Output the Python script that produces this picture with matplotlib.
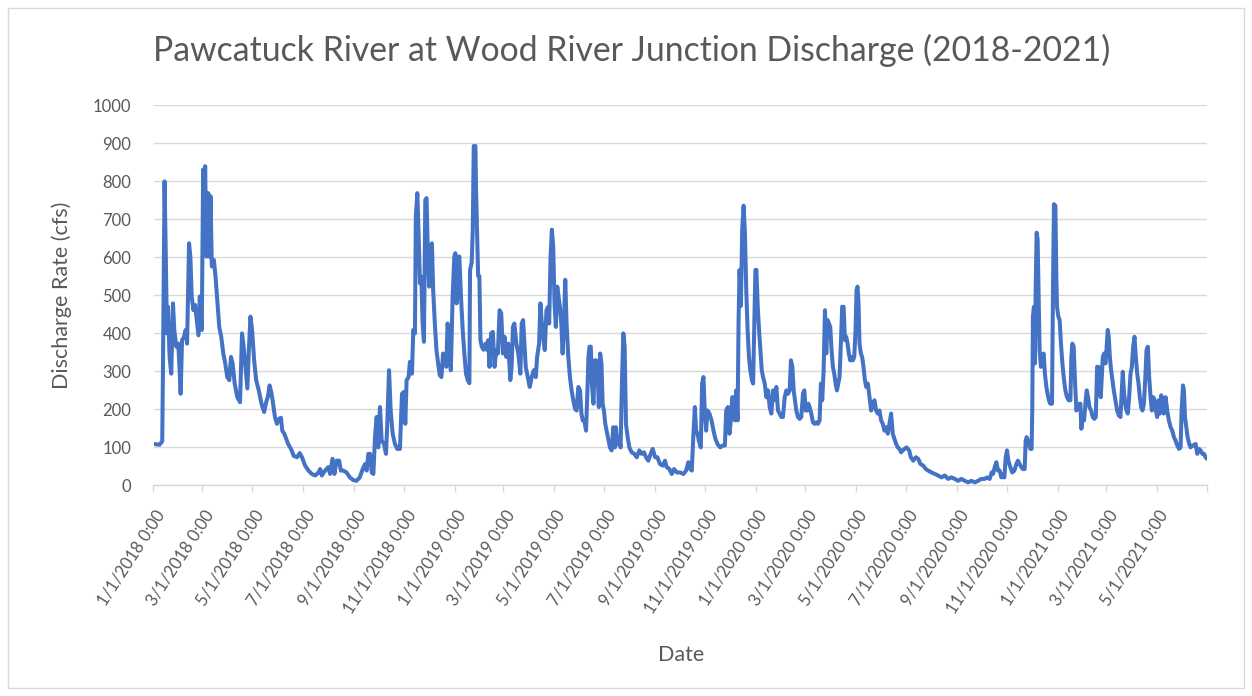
import datetime as dt

import matplotlib
matplotlib.use("Agg")
import matplotlib.dates as mdates
import matplotlib.pyplot as plt
import matplotlib.transforms as mtransforms
import numpy as np
from matplotlib.patches import Rectangle

# Discharge (cfs) by calendar year: day offset from Jan 1 of that year, and flow
day_2018 = [0, 7.3, 10.6, 11.4, 13.4, 14.6, 16.3, 17.5, 19.5, 21.5, 23.6, 25.2, 27.6, 30, 31.7,
            32.9, 34.6, 37, 39, 40.7, 43.1, 44.7, 46.3, 48.4, 50.4, 52.4, 54.5, 56.1, 58.5, 60.2,
            61.4, 62.6, 64.2, 66.3, 67.5, 69.1, 70.7, 73.2, 75.2, 77.6, 79.7, 82.1, 84.6, 87, 89.4,
            91.9, 93.9, 95.9, 98.4, 101.6, 104.9, 107.3, 109.3, 111.8, 113.8, 115.4, 117.5, 119.5,
            122, 124.4, 127.6, 130.9, 134.1, 136.6, 138.6, 140.7, 142.7, 144.7, 147.2, 149.6, 152,
            154.5, 156.1, 158.5, 161, 163.4, 166.7, 169.9, 174, 177.2, 180, 183.8, 187.9, 191.9,
            196, 200, 202, 204, 208, 212, 214, 217, 219.3, 222, 225, 227, 230, 234, 238, 242, 246,
            250, 253.6, 256.4, 258.4, 260.4, 262.5, 264.5, 266.5, 268.5, 270.5, 272.5, 274.5,
            276.6, 279.4, 281.8, 283.4, 285.5, 287.5, 289.9, 292.7, 295.5, 298.7, 301.2, 303.6,
            305.2, 306.8, 309.2, 310.8, 313.3, 314.9, 316.9, 318, 319.8, 321.3, 323, 324.6, 326.2,
            327.8, 329.5, 331, 332.6, 334.2, 335.8, 337.5, 339, 341, 343, 345, 347, 349, 351, 353,
            355, 356.4, 358.4, 360.4, 362.6, 364.6]
cfs_2018 = [108, 106, 115, 289, 799, 645, 399, 469, 337, 293, 478, 408, 364, 372, 302,
            240, 381, 390, 408, 372, 636, 601, 496, 460, 474, 434, 394, 496, 408, 830,
            663, 839, 601, 768, 601, 760, 575, 592, 548, 478, 416, 390, 346, 320, 284,
            276, 337, 320, 267, 231, 218, 399, 364, 302, 254, 346, 443, 408,
            328, 276, 249, 214, 192, 218, 232, 262, 245, 218, 179, 161, 174,
            177, 143, 135, 121, 107, 95, 77, 73, 84, 73, 51, 38, 29,
            25, 33, 42, 25, 38, 47, 29, 69, 29, 64, 64, 38, 38, 33, 20, 13, 11,
            20, 42, 55, 38, 82, 82, 33, 29, 126, 179, 99, 205,
            117, 108, 82, 161, 302, 196, 135, 108, 95, 95, 240, 245,
            161, 276, 284, 324, 293, 408, 399, 707, 768, 663, 531, 548, 425,
            377, 751, 755, 601, 522, 628, 636, 513, 425, 355, 320, 289, 284, 346, 337,
            311, 425, 399, 302, 496, 601]

day_2019 = [0.8, 2.4, 3.7, 5.7, 7.7, 9.8, 11.8, 13.8, 15.9, 17.9, 18.7, 20.7, 22, 23.2, 25.2, 26,
            27.2, 28.5, 30, 31.3, 32.9, 35, 37.4, 39, 40.7, 42.3, 44.3, 46.3, 48.4, 50.4, 52.4,
            54.5, 56.5, 58.5, 60.6, 62.6, 65, 67.5, 69.1, 70.7, 72.4, 74.8, 77.2, 79.7, 81.3, 83,
            84.6, 86.2, 88.6, 91, 93.5, 95.9, 98.4, 100, 102.4, 104, 105.7, 107.3, 109.3, 111.3,
            113.4, 114.6, 116.3, 117.9, 119.5, 121.1, 122.7, 124.4, 126, 127.6, 129.3, 130.9,
            132.5, 134.1, 135.7, 137.8, 139.8, 141.8, 143.9, 145.9, 147.9, 150, 152, 153.7, 155.3,
            157.3, 159.3, 161, 162.2, 163.5, 165.1, 166.3, 168.3, 170, 171.6, 173.2, 174.8, 176.4,
            178, 179.4, 181, 182.6, 184.2, 186.3, 188.3, 190.3, 192.3, 194.4, 195.6, 197.2, 199.2,
            201.2, 202.9, 204.5, 206.1, 207.7, 209.7, 211.8, 214.6, 217.8, 220.7, 223.9, 226.7,
            229.6, 232, 234.8, 237.7, 240.1, 243, 245.8, 249, 252.3, 255, 257.1, 260.4, 263.2, 266,
            269.3, 273.3, 277.4, 280.6, 283.4, 285.5, 287.5, 289.5, 291.2, 292.7, 294.4, 296,
            298.4, 300, 301.6, 303.2, 304.9, 306.5, 308.9, 311.4, 313.8, 316.2, 318.6, 321.9,
            325.1, 327.6, 329.2, 331.2, 333.2, 334.8, 336.5, 338.1, 339.7, 341.3, 343, 344.2,
            345.4, 347, 348.6, 350.3, 351.9, 353.5, 355.1, 356.8, 358.4, 360.4, 361.8, 363.4, 364.6]
cfs_2019 = [610, 478, 601, 601, 496, 408, 346, 293, 276, 268, 566, 585, 672, 892, 892, 777,
            663, 550, 550, 381, 364, 356, 372, 356, 381, 311, 399, 403, 311, 355, 346,
            460, 452, 346, 390, 337, 372, 276, 311, 416, 425, 372, 346, 293, 425, 434,
            372, 311, 284, 258, 284, 302, 284, 337, 372, 478, 425, 390, 355, 460,
            469, 425, 601, 672, 628, 478, 416, 522, 496, 469, 425, 346,
            425, 540, 425, 337, 284, 249, 223, 201, 196, 258, 249, 188, 170,
            170, 143, 249, 337, 364, 364, 267, 214, 328, 328, 311, 205, 346,
            320, 214, 196, 161, 143, 121, 99, 91, 152, 99, 152, 108, 126,
            99, 276, 399, 364, 161, 126, 99, 86, 82, 73, 91, 82,
            86, 73, 64, 82, 95, 73, 73, 55, 51, 64, 47, 42, 29, 42,
            33, 33, 29, 38, 60, 42, 38, 135, 205, 143, 135, 117,
            99, 267, 284, 196, 143, 196, 188, 170, 143, 121, 108, 99,
            104, 104, 196, 205, 135, 170, 231, 231, 170, 249, 170, 434,
            566, 471, 672, 735, 663, 513, 410, 337, 302, 276, 267, 443, 566]

day_2020 = [0.8, 2.4, 4, 5.6, 7.3, 8.9, 10.9, 12.9, 14.9, 16.9, 18.9, 21, 23, 25, 27, 29, 31, 33,
            35.1, 37.1, 39.1, 41.1, 42.7, 44.4, 46, 47.6, 49.2, 51.2, 53.2, 55.2, 57.3, 58.9, 60.5,
            62.1, 63.7, 65.3, 67.3, 69.4, 71.4, 73.4, 75.4, 77.4, 79, 80.6, 82.3, 83.9, 85.5, 87.1,
            88.7, 90.3, 91.9, 93.5, 95.2, 96.8, 98.4, 100, 101.6, 103.2, 104.8, 106.5, 108.1,
            109.7, 111.3, 112.9, 114.5, 116.1, 117.7, 119.4, 121, 122.2, 123.4, 124.6, 125.8,
            127.4, 129, 130.6, 132.3, 133.9, 135.9, 137.9, 139.9, 141.9, 143.9, 145.9, 148, 150,
            152, 154, 156, 158.1, 160.1, 162.1, 164.1, 166.1, 168.1, 170.2, 172.2, 174.2, 176.2,
            178.2, 182.8, 186, 188, 190.9, 194.1, 196.9, 199.7, 203, 206.2, 209, 213, 217.1, 221.1,
            225.1, 229.2, 233.2, 237.2, 241.3, 245.3, 249.3, 253.4, 257.4, 261.4, 265.5, 269.5,
            273.5, 277.6, 280.4, 283.6, 286, 287.6, 289.7, 291.7, 293.7, 295.7, 297.7, 299.7,
            301.4, 303, 304.6, 306.2, 308.6, 311, 313.5, 315.9, 317.9, 319.9, 321.9, 323.9, 326,
            327.2, 328.4, 330, 331.2, 332.8, 334.4, 335.2, 336, 337.2, 338.5, 339.3, 340.5, 341.7,
            342.9, 344.1, 345.7, 347.3, 349, 350.5, 352.3, 353.8, 355.4, 357, 359.1, 360.3, 361.5,
            363.2, 364.4, 365.2]
cfs_2020 = [566, 471, 408, 355, 302, 284, 267, 231, 249, 205, 188, 249, 223, 258, 196, 188, 179, 179,
            231, 249, 240, 249, 328, 311, 249, 223, 196, 179, 174, 179, 240, 249, 196,
            196, 214, 205, 188, 165, 161, 165, 161, 170, 267, 223, 302, 460, 346, 434,
            425, 416, 355, 311, 293, 267, 249, 267, 284, 372, 469, 469, 381,
            390, 372, 346, 328, 337, 328, 337, 408, 513, 522, 478, 372,
            346, 337, 311, 276, 258, 267, 231, 196, 214, 223, 196, 188, 196,
            170, 161, 143, 152, 135, 161, 188, 135, 121, 108, 99, 95, 86,
            91, 99, 91, 73, 64, 73, 69, 55, 51, 42, 38, 33, 29, 25,
            20, 25, 16, 20, 16, 11, 16, 11, 7, 11, 7, 11,
            16, 16, 20, 16, 33, 29, 47, 60, 38, 38, 20, 29,
            20, 73, 91, 64, 47, 33, 38, 55, 64, 55, 47, 42, 42,
            117, 126, 117, 108, 95, 95, 196, 443, 469, 320, 513, 664, 646,
            496, 355, 311, 337, 346, 293, 258, 240, 223, 214, 214, 513, 739,
            735, 548, 469]

day_2021 = [0.8, 2.4, 4, 5.7, 7.3, 9.3, 11.3, 13.4, 15.4, 16.6, 17.8, 19.4, 21.1, 22.7, 24.3, 25.9,
            27.5, 28.7, 30.4, 32, 33.6, 35.2, 36.8, 38.5, 40.5, 42.5, 44.5, 46.2, 47.8, 49.4, 51,
            52.2, 53.4, 54.7, 56.3, 57.9, 59.1, 60.7, 61.9, 63.2, 64.8, 66.4, 68, 70, 72.1, 74.1,
            76.1, 77.7, 78.9, 80.2, 81.8, 83.4, 85, 86.6, 88.3, 89.9, 91.5, 93.1, 94.7, 96.4, 98,
            99.6, 101.2, 102.8, 104.5, 106.1, 107.7, 109.3, 110.9, 112.6, 114.2, 115.8, 117.4, 119,
            120.6, 122.3, 123.9, 125.5, 127.1, 128.7, 130.8, 132.8, 134.8, 136.9, 138.9, 140.9,
            142.9, 145, 147, 149, 150.2, 151.9, 153, 154.3, 155.9, 157.5, 159.5, 161.1, 163.2,
            165.2, 167.2, 169.2, 171.3, 173.3, 175.3, 177.3, 179.3, 181]
cfs_2021 = [443, 434, 372, 320, 284, 249, 231, 223, 223, 337, 372, 364, 267, 196, 214, 205,
            214, 148, 179, 170, 214, 249, 231, 205, 196, 179, 174, 179, 311, 311, 249,
            231, 284, 337, 346, 320, 355, 408, 390, 337, 302, 276, 249, 223, 196, 183,
            179, 249, 298, 249, 214, 196, 188, 231, 293, 311, 364, 390, 337, 293, 267,
            231, 205, 196, 214, 276, 355, 364, 284, 231, 196, 231, 223, 196,
            179, 223, 188, 236, 223, 188, 231, 196, 170, 152, 143, 126,
            117, 104, 95, 99, 196, 262, 249, 179, 152, 126, 108, 99, 104,
            104, 108, 82, 95, 91, 82, 82, 73, 69]

tick_labels = ["1/1/2018 0:00", "3/1/2018 0:00", "5/1/2018 0:00", "7/1/2018 0:00",
               "9/1/2018 0:00", "11/1/2018 0:00", "1/1/2019 0:00", "3/1/2019 0:00",
               "5/1/2019 0:00", "7/1/2019 0:00", "9/1/2019 0:00", "11/1/2019 0:00",
               "1/1/2020 0:00", "3/1/2020 0:00", "5/1/2020 0:00", "7/1/2020 0:00",
               "9/1/2020 0:00", "11/1/2020 0:00", "1/1/2021 0:00", "3/1/2021 0:00",
               "5/1/2021 0:00"]
axis_end = "7/1/2021 0:00"

TEXT = "#595959"
GRID = "#D9D9D9"
BLUE = "#4472C4"
FONT = ["Lato", "DejaVu Sans"]

plt.rcParams["font.family"] = FONT

# Join the yearly pieces into one time series on matplotlib date numbers
years = [(2018, day_2018, cfs_2018), (2019, day_2019, cfs_2019),
         (2020, day_2020, cfs_2020), (2021, day_2021, cfs_2021)]
x_all, y_all = [], []
for yr, days, flows in years:
    base = mdates.date2num(dt.datetime(yr, 1, 1))
    x_all.append(base + np.asarray(days, dtype=float))
    y_all.append(np.asarray(flows, dtype=float))
x_all = np.concatenate(x_all)
y_all = np.concatenate(y_all)

W, H, DPI = 1252, 696, 100
fig = plt.figure(figsize=(W / DPI, H / DPI), dpi=DPI)
fig.patch.set_facecolor("white")

# Plot area in pixel terms
left, right, top, bottom = 153.5, 1207, 105, 485
ax = fig.add_axes([left / W, 1 - bottom / H, (right - left) / W, (bottom - top) / H])

ax.plot(x_all, y_all, color=BLUE, linewidth=2.9, solid_joinstyle="round",
        solid_capstyle="round", zorder=3)

fmt = "%m/%d/%Y %H:%M"
tick_dates = [dt.datetime.strptime(s, fmt) for s in tick_labels]
end_date = dt.datetime.strptime(axis_end, fmt)
ax.set_xlim(mdates.date2num(tick_dates[0]), mdates.date2num(end_date))
ax.set_ylim(0, 1000)

ax.set_xticks(mdates.date2num(tick_dates + [end_date]))
ax.set_xticklabels(tick_labels + [""], rotation=57, ha="right", va="center",
                   rotation_mode="anchor", fontsize=12, color=TEXT)
ax.tick_params(axis="x", direction="out", length=5, width=1.0, color=GRID, pad=14)
shift = mtransforms.ScaledTranslation(8 / DPI, 0, fig.dpi_scale_trans)
for lbl in ax.get_xticklabels():
    lbl.set_transform(lbl.get_transform() + shift)

ax.set_yticks(np.arange(0, 1001, 100))
ax.set_yticklabels([str(v) for v in range(0, 1001, 100)], fontsize=12, color=TEXT)
ax.tick_params(axis="y", length=0, pad=16)

ax.grid(axis="y", color=GRID, linewidth=1.0, zorder=0)
ax.set_axisbelow(True)
for side in ("left", "right", "top"):
    ax.spines[side].set_visible(False)
ax.spines["bottom"].set_color(GRID)
ax.spines["bottom"].set_linewidth(1.0)
ax.spines["bottom"].set_zorder(1)

# Titles
title = fig.text(632 / W, 1 - 50 / H, "Pawcatuck River at Wood River Junction Discharge (2018-2021)",
                 ha="center", va="center", fontsize=22, color=TEXT)
fig.canvas.draw()
tw = title.get_window_extent().width
title.set_fontsize(22 * 953 / tw)

fig.text(62 / W, 1 - 295 / H, "Discharge Rate (cfs)", rotation=90, ha="center", va="center",
         fontsize=15.5, color=TEXT)
fig.text(681 / W, 1 - 655 / H, "Date", ha="center", va="center", fontsize=15.5, color=TEXT)

# Chart-area border
fig.patches.append(Rectangle((8 / W, 1 - 688 / H), (1244 - 8) / W, (688 - 8) / H,
                             transform=fig.transFigure, fill=False, edgecolor=GRID,
                             linewidth=1.0))

fig.savefig("out.png", dpi=DPI, facecolor="white")
